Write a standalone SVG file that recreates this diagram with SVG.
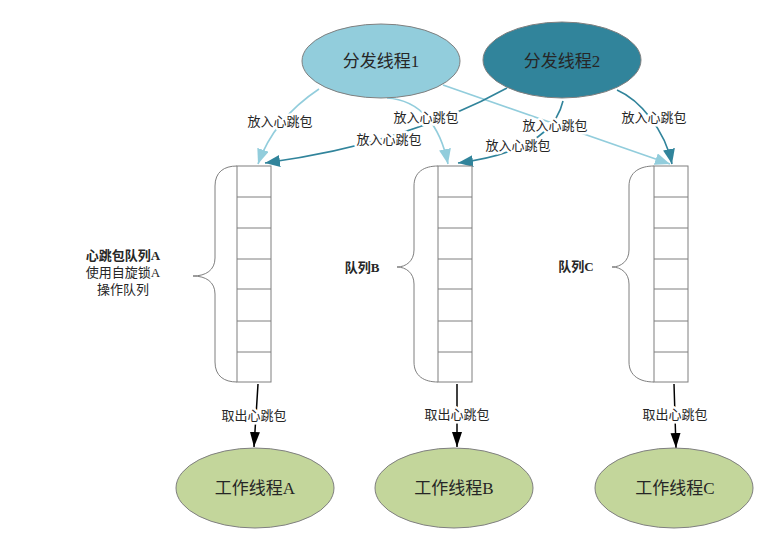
<svg xmlns="http://www.w3.org/2000/svg" width="775" height="552" viewBox="0 0 775 552">
<style>
text{font-family:"Liberation Serif","Noto Sans CJK SC",serif;fill:#262626;text-anchor:middle}
.big{font-size:17px}
.lbl{font-size:13px;stroke:#fff;stroke-width:5px;paint-order:stroke;stroke-linejoin:round}
.side{font-size:13px}
.b{font-weight:bold}
.box{fill:#fff;stroke:#7f7f7f;stroke-width:1}
.row{stroke:#7f7f7f;stroke-width:1}
.brace{fill:none;stroke:#7f7f7f;stroke-width:1}
.light{fill:none;stroke:#92CDDC;stroke-width:1.6}
.teal{fill:none;stroke:#31849B;stroke-width:1.6}
.blk{fill:none;stroke:#000;stroke-width:1.5}
</style>
<defs>
<marker id="mL" markerUnits="userSpaceOnUse" markerWidth="16" markerHeight="12" refX="15" refY="6" orient="auto"><path d="M0,0 L15,6 L0,12 z" fill="#92CDDC"/></marker>
<marker id="mT" markerUnits="userSpaceOnUse" markerWidth="16" markerHeight="12" refX="15" refY="6" orient="auto"><path d="M0,0 L15,6 L0,12 z" fill="#31849B"/></marker>
<marker id="mB" markerUnits="userSpaceOnUse" markerWidth="16" markerHeight="12" refX="15" refY="5" orient="auto"><path d="M0,0 L15,5 L0,10 z" fill="#000"/></marker>
</defs>
<rect width="775" height="552" fill="#fff"/>

<g id="connectors">
<path class="light" d="M319,89 C295,105 270,130 258,164" marker-end="url(#mL)"/>
<path class="light" d="M387,98 C420,100 440,125 448,164" marker-end="url(#mL)"/>
<path class="light" d="M443,85 L670,164" marker-end="url(#mL)"/>
<path class="teal" d="M507,88 C440,125 360,150 265,163" marker-end="url(#mT)"/>
<path class="teal" d="M563,101 C555,135 520,155 458,163" marker-end="url(#mT)"/>
<path class="teal" d="M617,90 C640,100 665,130 672,164" marker-end="url(#mT)"/>
<text class="lbl" x="280" y="126">放入心跳包</text>
<text class="lbl" x="426" y="122">放入心跳包</text>
<text class="lbl" x="555" y="130">放入心跳包</text>
<text class="lbl" x="389" y="144">放入心跳包</text>
<text class="lbl" x="518" y="150">放入心跳包</text>
<text class="lbl" x="654" y="122">放入心跳包</text>
<path class="blk" d="M258,384 L254,447" marker-end="url(#mB)"/>
<path class="blk" d="M457,384 L457,447" marker-end="url(#mB)"/>
<path class="blk" d="M674,384 L676,448" marker-end="url(#mB)"/>
<text class="lbl" x="254" y="420">取出心跳包</text>
<text class="lbl" x="457" y="419">取出心跳包</text>
<text class="lbl" x="675" y="419">取出心跳包</text>
</g>

<g id="dispatch1">
<ellipse cx="381" cy="61" rx="79" ry="37" fill="#92CDDC" stroke="#7f7f7f" stroke-width="1"/>
<text class="big" x="381" y="67">分发线程1</text>
</g>
<g id="dispatch2">
<ellipse cx="562" cy="60" rx="79" ry="38" fill="#31849B" stroke="#7f7f7f" stroke-width="1"/>
<text class="big" x="562" y="67">分发线程2</text>
</g>

<g id="queueA">
<rect class="box" x="237" y="166" width="34" height="216"/>
<path class="row" d="M237,197 H271 M237,228 H271 M237,259 H271 M237,289 H271 M237,321 H271 M237,352 H271"/>
<path class="brace" d="M237,166 C224,166 215,172 215,186 L215,258 C215,270 206,276 193,276 C206,276 215,282 215,294 L215,362 C215,376 224,382 237,382"/>
<text class="side b" x="123" y="260">心跳包队列A</text>
<text class="side" x="123" y="277">使用自旋锁A</text>
<text class="side" x="123" y="294">操作队列</text>
</g>

<g id="queueB">
<rect class="box" x="438" y="166" width="34" height="216"/>
<path class="row" d="M438,197 H472 M438,228 H472 M438,259 H472 M438,289 H472 M438,321 H472 M438,352 H472"/>
<path class="brace" d="M438,166 C424,166 414,172 414,186 L414,250 C414,261 406,267 397,267 C406,267 414,273 414,284 L414,362 C414,376 424,382 438,382"/>
<text class="side b" x="362" y="272">队列B</text>
</g>

<g id="queueC">
<rect class="box" x="654" y="166" width="34" height="216"/>
<path class="row" d="M654,197 H688 M654,228 H688 M654,259 H688 M654,289 H688 M654,321 H688 M654,352 H688"/>
<path class="brace" d="M654,166 C640,166 629,172 629,186 L629,250 C629,261 621,267 612,267 C621,267 629,273 629,284 L629,362 C629,376 640,382 654,382"/>
<text class="side b" x="576" y="271">队列C</text>
</g>

<g id="workerA">
<ellipse cx="255" cy="488" rx="79" ry="40" fill="#C3D69B" stroke="#7f7f7f" stroke-width="1"/>
<text class="big" x="255" y="494">工作线程A</text>
</g>
<g id="workerB">
<ellipse cx="454" cy="488" rx="79" ry="40" fill="#C3D69B" stroke="#7f7f7f" stroke-width="1"/>
<text class="big" x="454" y="494">工作线程B</text>
</g>
<g id="workerC">
<ellipse cx="674" cy="488" rx="79" ry="40" fill="#C3D69B" stroke="#7f7f7f" stroke-width="1"/>
<text class="big" x="675" y="494">工作线程C</text>
</g>
</svg>
